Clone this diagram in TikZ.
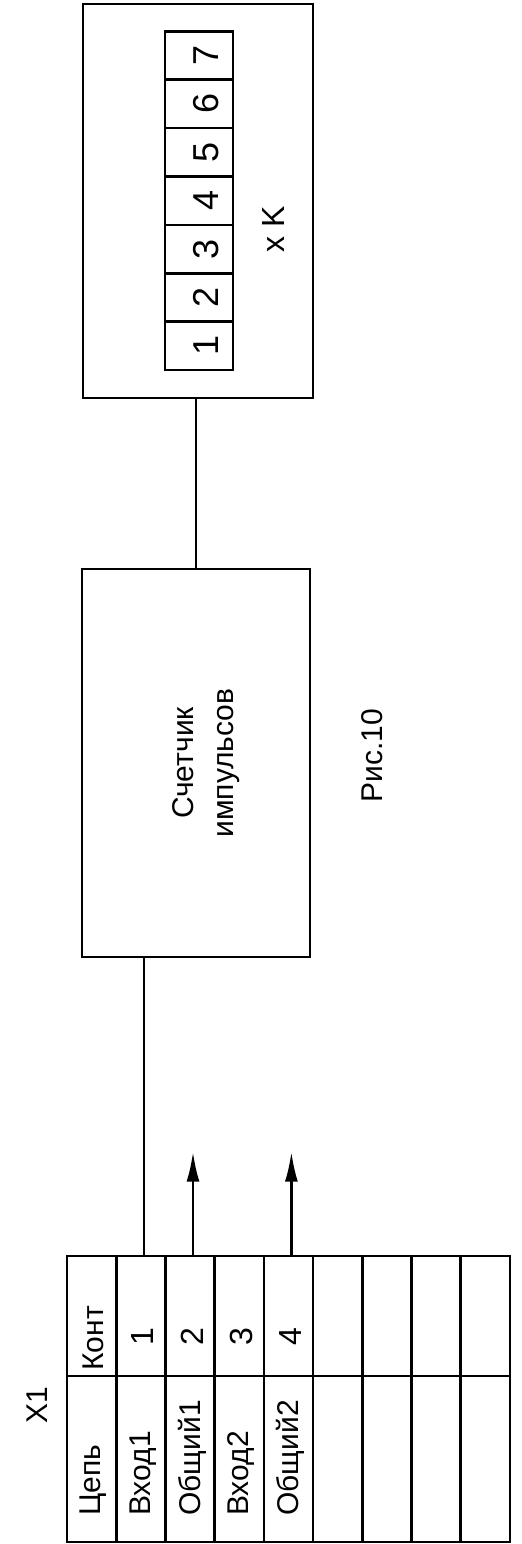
\documentclass[tikz,border=0pt]{standalone}
\usepackage{fontspec}
\setmainfont{Liberation Sans}
\usetikzlibrary{arrows.meta}
\begin{document}
\begin{tikzpicture}[x=0.5pt,y=-0.5pt,line width=1.3pt,
  blockbox/.style={draw,rectangle,inner sep=0pt},
  cell/.style={draw,rectangle,inner sep=0pt,minimum width=24.6pt},
  lbl/.style={rotate=90,inner sep=0pt,font=\fontsize{15}{20}\selectfont},
  sig/.style={-{Latex[length=15pt,width=6.5pt]}}]
\useasboundingbox (0,0) rectangle (521,1544);
% indicator
\node[blockbox,minimum width=115pt,minimum height=197pt] (display) at (198,201) {};
\foreach \d in {1,...,7}{
  \node[cell,minimum width=34pt,minimum height=24.2pt] (seg\d) at (199,{370-48.4*(\d-0.5)}) {};
  \node[lbl,font=\fontsize{18}{20}\selectfont] (dig\d) at ([xshift=3.5pt]seg\d.center) {\d};
}
\node[lbl,font=\fontsize{16}{18}\selectfont] (mult) at (273,229) {x K};
% counter
\node[blockbox,minimum width=114pt,minimum height=194pt] (counter) at (196,763) {};
\node[lbl,align=center] (countertext) at ([xshift=5pt]counter.center) {Счетчик\\импульсов};
\node[lbl] (fig) at (372,756) {Рис.10};
% connector X1
\node[lbl] (xone) at (37,1405) {X1};
\foreach \i in {0,...,8}{
  \node[cell,minimum height=60pt] (k\i) at ({91.6+49.2*\i},1316) {};
  \node[cell,minimum height=83pt] (n\i) at ({91.6+49.2*\i},1459) {};
}
\foreach \i/\name/\pin in {0/Цепь/Конт,1/Вход1/1,2/Общий1/2,3/Вход2/3,4/Общий2/4}{
  \node[lbl,anchor=west] (name\i) at ([xshift=1pt]n\i.center |- 0,1517) {\name};
}
\node[lbl,anchor=west] (pin0) at ([xshift=1pt]k0.center |- 0,1372) {Конт};
\foreach \i in {1,...,4}{
  \node[lbl,font=\fontsize{16}{18}\selectfont] (pin\i) at ([xshift=1pt]k\i.center |- 0,1337) {\i};
}
% wires
\draw ([xshift=1.5pt]k1.north) -- ([xshift=1.5pt]k1.north |- counter.south);
\draw (counter.north) -- (counter.north |- display.south);
\path ([xshift=1.5pt]k2.north) ++(0,-103) coordinate (tip2);
\path ([xshift=1.5pt]k4.north) ++(0,-103) coordinate (tip4);
\draw[sig] ([xshift=1.5pt]k2.north) -- (tip2);
\draw[sig] ([xshift=1.5pt]k4.north) -- (tip4);
\end{tikzpicture}
\end{document}
